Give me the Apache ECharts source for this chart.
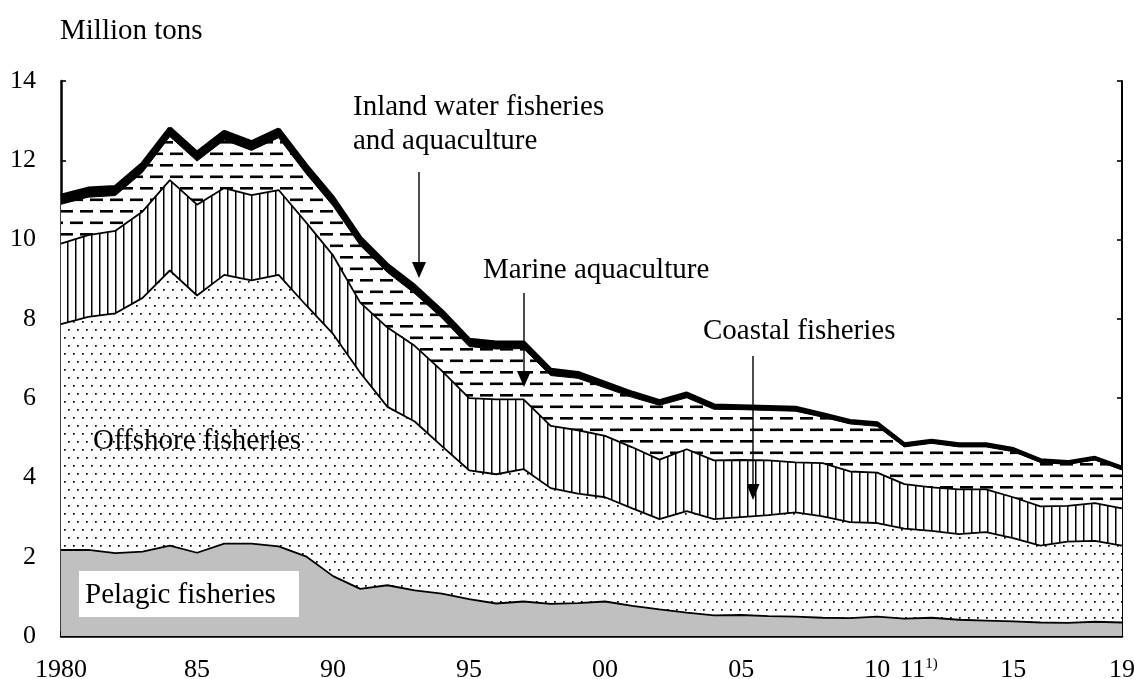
<!DOCTYPE html>
<html>
<head>
<meta charset="utf-8">
<script src="https://cdn.jsdelivr.net/npm/echarts@6/dist/echarts.min.js"></script>
</head>
<body style="margin:0">
<div id="container" style="width:1134px;height:679px"></div>
<script>
var years = ['1980','1981','1982','1983','1984','1985','1986','1987','1988','1989',
  '1990','1991','1992','1993','1994','1995','1996','1997','1998','1999',
  '2000','2001','2002','2003','2004','2005','2006','2007','2008','2009',
  '2010','2011','2012','2013','2014','2015','2016','2017','2018','2019'];
// shown tick labels
var tickLabels = {'1980':'1980','1985':'85','1990':'90','1995':'95','2000':'00',
  '2005':'05','2010':'10','2011':'{p|11}{s|1)}','2015':'15','2019':'19'};

// million tons, per layer (bottom to top)
var pelagic = [2.17,2.17,2.09,2.13,2.28,2.10,2.33,2.33,2.26,2.01,
  1.51,1.19,1.28,1.15,1.07,0.93,0.82,0.87,0.81,0.83,
  0.87,0.76,0.67,0.59,0.52,0.53,0.50,0.49,0.46,0.45,
  0.49,0.44,0.46,0.41,0.39,0.37,0.34,0.33,0.36,0.34];
var offshore = [5.70,5.88,6.05,6.40,6.94,6.49,6.78,6.64,6.85,6.34,
  6.11,5.45,4.50,4.26,3.72,3.25,3.26,3.34,2.92,2.76,
  2.63,2.46,2.28,2.56,2.43,2.47,2.55,2.63,2.56,2.42,
  2.36,2.27,2.19,2.16,2.23,2.10,1.94,2.05,2.04,1.94];
var coastal = [2.03,2.06,2.08,2.18,2.28,2.29,2.19,2.15,2.14,2.09,
  1.98,1.77,2.00,1.91,1.90,1.82,1.89,1.76,1.57,1.60,
  1.55,1.54,1.50,1.56,1.48,1.44,1.38,1.26,1.34,1.28,
  1.27,1.12,1.10,1.13,1.08,1.03,0.99,0.90,0.95,0.94];
var marineAqua = [0.99,0.96,0.89,0.99,1.10,1.10,1.21,1.13,1.32,1.23,
  1.25,1.44,1.39,1.32,1.33,1.30,1.27,1.28,1.27,1.31,
  1.21,1.26,1.37,1.30,1.29,1.27,1.26,1.29,1.16,1.20,
  1.17,0.94,1.11,1.07,1.07,1.15,1.11,1.05,1.09,0.97];
var inland = [0.21,0.21,0.21,0.21,0.20,0.20,0.20,0.20,0.20,0.20,
  0.20,0.19,0.18,0.18,0.17,0.17,0.16,0.15,0.14,0.13,
  0.12,0.11,0.10,0.10,0.09,0.08,0.08,0.08,0.07,0.07,
  0.07,0.06,0.06,0.06,0.06,0.06,0.05,0.05,0.05,0.05];

var FONT = 'Liberation Serif';

function tile(w, h, draw) {
  var c = document.createElement('canvas');
  c.width = w; c.height = h;
  var g = c.getContext('2d');
  g.fillStyle = '#fff';
  g.fillRect(0, 0, w, h);
  g.fillStyle = '#000';
  draw(g);
  return { image: c, repeat: 'repeat' };
}
var dots = tile(18, 16, function (g) {
  g.fillRect(1, 1, 1.7, 1.7); g.fillRect(10, 1, 1.7, 1.7);
  g.fillRect(5, 9, 1.7, 1.7); g.fillRect(14, 9, 1.7, 1.7);
});
var vlines = tile(8, 8, function (g) { g.fillRect(3, 0, 1.5, 8); });
var dashes = tile(20, 23, function (g) {
  g.fillRect(0, 3, 13, 2.6);
  g.fillRect(10, 14.5, 10, 2.6); g.fillRect(0, 14.5, 3, 2.6);
});

function layer(name, data, fill, lw) {
  return {
    name: name, type: 'line', stack: 'total', data: data,
    symbol: 'none', silent: true,
    lineStyle: { color: '#000', width: lw },
    areaStyle: { color: fill, opacity: 1 }
  };
}

function arrow(x, y1, y2, hw) {
  return [
    { type: 'line', z: 100, shape: { x1: x, y1: y1, x2: x, y2: y2 - 10 },
      style: { stroke: '#000', lineWidth: 1.4 } },
    { type: 'polygon', z: 100, shape: { points: [[x - hw, y2 - 16], [x + hw, y2 - 16], [x, y2]] },
      style: { fill: '#000' } }
  ];
}

function label(text, x, y) {
  return { type: 'text', z: 101, style: { text: text, x: x, y: y, fill: '#000',
    font: '29px "' + FONT + '"', textAlign: 'left', textVerticalAlign: 'middle' } };
}

var chart = echarts.init(document.getElementById('container'), null, { renderer: 'canvas' });

var graphics = [
  label('Million tons', 60, 31),
  label('Inland water fisheries', 353, 107),
  label('and aquaculture', 353, 141),
  label('Marine aquaculture', 483, 270),
  label('Coastal fisheries', 703, 331),
  label('Offshore fisheries', 93, 441),
  { type: 'rect', z: 100, shape: { x: 79, y: 571, width: 220, height: 46 }, style: { fill: '#fff' } },
  label('Pelagic fisheries', 85, 595)
].concat(arrow(419, 172, 278, 7), arrow(524, 293, 387, 7), arrow(753, 356, 500, 6.5));

chart.setOption({
  animation: false,
  grid: { left: 61, right: 12, top: 81, bottom: 43, outerBoundsMode: 'none', containLabel: false },
  xAxis: {
    type: 'category', data: years, boundaryGap: false,
    axisLine: { lineStyle: { color: '#000', width: 2.5 } },
    axisTick: { inside: true, length: 5, interval: 0, lineStyle: { color: '#000', width: 1.6 } },
    axisLabel: {
      interval: 0, margin: 21, color: '#000', fontFamily: FONT, fontSize: 26,
      formatter: function (v) { return tickLabels[v] || ''; },
      rich: {
        p: { fontFamily: FONT, fontSize: 26, color: '#000', padding: [0, 0, 0, 29] },
        s: { fontFamily: FONT, fontSize: 15, color: '#000', verticalAlign: 'top' }
      }
    },
    splitLine: { show: false }
  },
  yAxis: [{
    type: 'value', min: 0, max: 14, interval: 2,
    axisLine: { show: true, lineStyle: { color: '#000', width: 2.5 } },
    axisTick: { show: true, inside: true, length: 5, lineStyle: { color: '#000', width: 1.6 } },
    axisLabel: { margin: 25, color: '#000', fontFamily: FONT, fontSize: 26 },
    splitLine: { show: false }
  }, {
    type: 'value', min: 0, max: 14, interval: 2, position: 'right',
    axisLine: { show: true, lineStyle: { color: '#000', width: 2 } },
    axisTick: { show: true, inside: true, length: 5, lineStyle: { color: '#000', width: 1.6 } },
    axisLabel: { show: false },
    splitLine: { show: false }
  }],
  series: [
    layer('Pelagic fisheries', pelagic, '#c0c0c0', 1.8),
    layer('Offshore fisheries', offshore, dots, 1.8),
    layer('Coastal fisheries', coastal, vlines, 1.8),
    layer('Marine aquaculture', marineAqua, dashes, 1),
    layer('Inland water fisheries and aquaculture', inland, '#000', 4.5)
  ],
  graphic: graphics
});
</script>
</body>
</html>
